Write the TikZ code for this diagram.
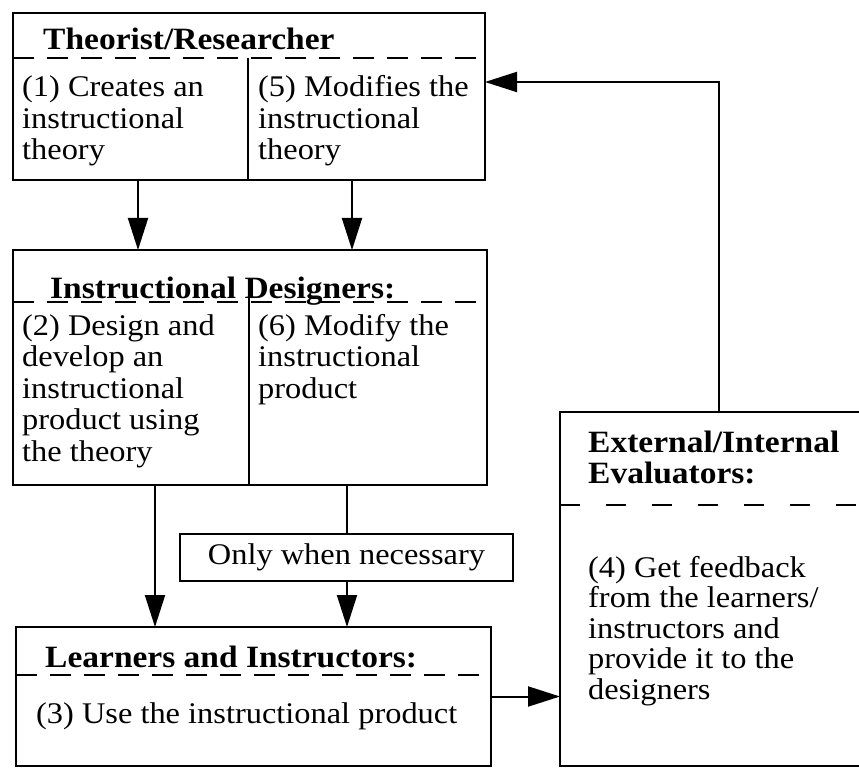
\documentclass[tikz,border=0pt]{standalone}
\usepackage{fontspec}
\setmainfont[FakeStretch=1.08]{Liberation Serif}
\usetikzlibrary{arrows.meta}
\begin{document}
\begin{tikzpicture}[x=1pt,y=-1pt,
  frame/.style={draw, line width=2.4pt, inner sep=0pt, outer sep=0pt, anchor=north west},
  divider/.style={line width=2.4pt},
  dl/.style={line width=2.4pt, dash pattern=on 21pt off 13pt},
  evdl/.style={line width=2.4pt, dash pattern=on 20pt off 26pt},
  conn/.style={line width=2pt},
  arr/.style={line width=2pt, -{Triangle[length=32pt,width=20pt]}},
  txt/.style={anchor=base west, inner sep=0pt, font=\fontsize{30}{31.5}\selectfont},
  ttl/.style={anchor=base west, inner sep=0pt, font=\fontsize{31}{31}\selectfont\bfseries},
]
\fill[white] (0,0) rectangle (859,770);
\clip (0,0) rectangle (859,770);

% boxes
\node[frame, minimum width=472pt, minimum height=167pt] (th) at (13,13) {};
\node[frame, minimum width=474pt, minimum height=235pt] (ds) at (13,250) {};
\node[frame, minimum width=333pt, minimum height=47pt, font=\fontsize{30}{31}\selectfont] (only) at (180,534) {Only when necessary};
\node[frame, minimum width=475pt, minimum height=139pt] (le) at (16,627) {};
\node[frame, minimum width=330pt, minimum height=354pt] (ev) at (560,412) {};

% dashed separators and dividers
\draw[dl] ([yshift=-45pt]th.north west) -- ([yshift=-45pt]th.north east);
\draw[divider] ([xshift=235pt]th.south west) -- ([xshift=235pt,yshift=-45pt]th.north west);
\draw[dl] ([yshift=-52pt]ds.north west) -- ([yshift=-52pt]ds.north east);
\draw[divider] ([xshift=236pt]ds.south west) -- ([xshift=236pt,yshift=-48pt]ds.north west);
\draw[dl] ([yshift=-48pt]le.north west) -- ([yshift=-48pt]le.north east);
\draw[evdl] ([yshift=-93pt]ev.north west) -- ([yshift=-93pt]ev.north east);

% texts
\node[ttl] (thT) at (43,50) {Theorist/Researcher};
\node[txt] (th1) at (22,97) {\parbox[t]{250pt}{\raggedright (1) Creates an\\instructional\\theory}};
\node[txt] (th5) at (258,97) {\parbox[t]{250pt}{\raggedright (5) Modifies the\\instructional\\theory}};

\node[ttl] (dsT) at (50,298) {Instructional Designers:};
\node[txt] (ds2) at (22,335) {\parbox[t]{250pt}{\raggedright (2) Design and\\develop an\\instructional\\product using\\the theory}};
\node[txt] (ds6) at (258,335) {\parbox[t]{250pt}{\raggedright (6) Modify the\\instructional\\product}};

\node[ttl] (leT) at (45,667) {Learners and Instructors:};
\node[txt] (le3) at (36,723) {(3) Use the instructional product};

\node[ttl] (evT) at (588,452) {\parbox[t]{280pt}{\raggedright External/Internal\\Evaluators:}};
\node[txt, font=\fontsize{30}{30.5}\selectfont] (ev4) at (588,577) {\parbox[t]{280pt}{\raggedright (4) Get feedback\\from the learners/\\instructors and\\provide it to the\\designers}};

% connectors
\draw[arr] ([xshift=125pt]th.south west) coordinate (t1) -- (t1 |- ds.north);
\draw[arr] ([xshift=339pt]th.south west) coordinate (t2) -- (t2 |- ds.north);
\draw[arr] ([xshift=142pt]ds.south west) coordinate (d1) -- (d1 |- le.north);
\draw[conn] ([xshift=334pt]ds.south west) coordinate (d2) -- (d2 |- only.north);
\draw[arr] (d2 |- only.south) -- (d2 |- le.north);
\draw[arr] (le.east) -- (le.east -| ev.west);
\draw[arr] ([xshift=159pt]ev.north west) |- ([yshift=-69pt]th.north east);
\end{tikzpicture}
\end{document}
